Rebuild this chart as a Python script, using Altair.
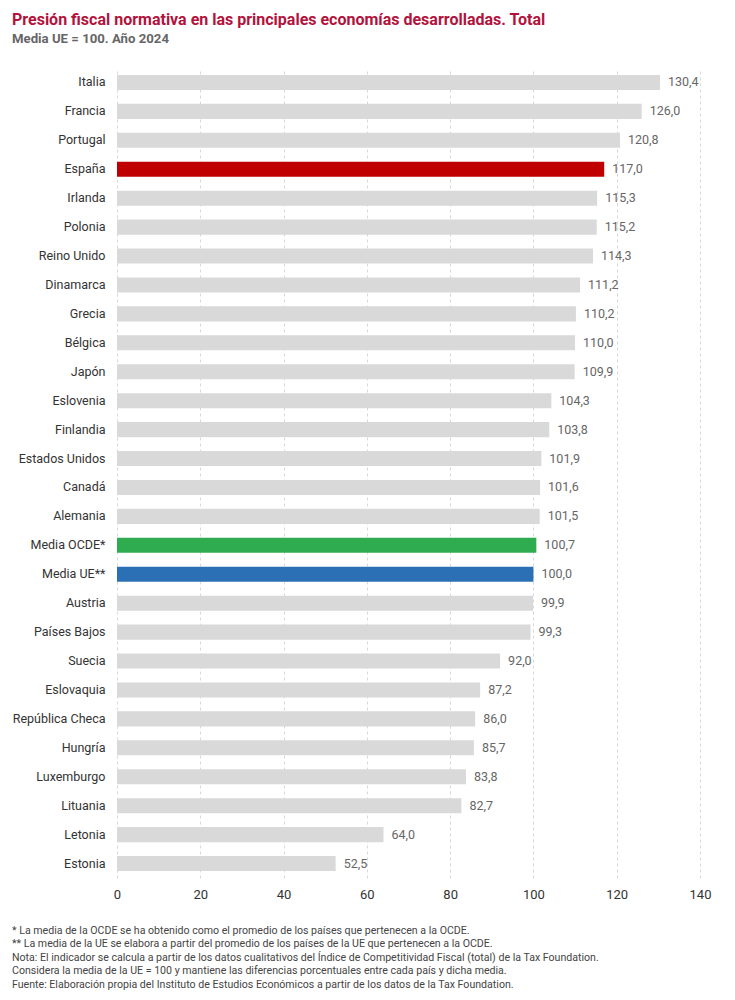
import altair as alt
import pandas as pd

countries = ["Italia", "Francia", "Portugal", "España", "Irlanda", "Polonia", "Reino Unido",
             "Dinamarca", "Grecia", "Bélgica", "Japón", "Eslovenia", "Finlandia", "Estados Unidos",
             "Canadá", "Alemania", "Media OCDE*", "Media UE**", "Austria", "Países Bajos", "Suecia",
             "Eslovaquia", "República Checa", "Hungría", "Luxemburgo", "Lituania", "Letonia", "Estonia"]
values = [130.4, 126.0, 120.8, 117.0, 115.3, 115.2, 114.3, 111.2, 110.2, 110.0, 109.9, 104.3,
          103.8, 101.9, 101.6, 101.5, 100.7, 100.0, 99.9, 99.3, 92.0, 87.2, 86.0, 85.7, 83.8,
          82.7, 64.0, 52.5]
groups = ["otro"] * len(countries)
groups[countries.index("España")] = "España"
groups[countries.index("Media OCDE*")] = "OCDE"
groups[countries.index("Media UE**")] = "UE"

footnotes = [
    "* La media de la OCDE se ha obtenido como el promedio de los países que pertenecen a la OCDE.",
    "** La media de la UE se elabora a partir del promedio de los países de la UE que pertenecen a la OCDE.",
    "Nota: El indicador se calcula a partir de los datos cualitativos del Índice de Competitividad Fiscal (total) de la Tax Foundation.",
    "Considera la media de la UE = 100 y mantiene las diferencias porcentuales entre cada país y dicha media.",
    "Fuente: Elaboración propia del Instituto de Estudios Económicos a partir de los datos de la Tax Foundation.",
]

df = pd.DataFrame({
    "pais": countries,
    "valor": values,
    "grupo": groups,
    "etiqueta": [f"{v:.1f}".replace(".", ",") for v in values],
})
notes_df = pd.DataFrame({"linea": footnotes, "i": list(range(len(footnotes)))})

W, H = 583, 810
FONT = "Roboto"

y_enc = alt.Y("pais:N", sort=countries, title=None,
              scale=alt.Scale(paddingInner=0.48, paddingOuter=0.24),
              axis=alt.Axis(domain=False, ticks=False, labelPadding=12, labelFontSize=12.5,
                            labelColor="#333333", labelFont=FONT, grid=False))
x_enc = alt.X("valor:Q", title=None,
              scale=alt.Scale(domain=[0, 140], nice=False),
              axis=alt.Axis(values=list(range(0, 141, 20)), domain=False, ticks=False,
                            labelFontSize=13, labelColor="#333333", labelFont=FONT,
                            labelFlush=False, labelPadding=10, grid=True,
                            gridColor="#d8d8d8", gridDash=[3, 3], gridWidth=1))

base = alt.Chart(df)
bars = base.mark_bar().encode(
    y=y_enc,
    x=x_enc,
    color=alt.Color("grupo:N", legend=None,
                    scale=alt.Scale(domain=["otro", "España", "OCDE", "UE"],
                                    range=["#d9d9d9", "#c00000", "#2fac50", "#2b70b5"])),
)
labels = base.mark_text(align="left", baseline="middle", dx=8, fontSize=12.5,
                        color="#666666", font=FONT).encode(
    y=alt.Y("pais:N", sort=countries),
    x=alt.X("valor:Q"),
    text="etiqueta:N",
)
notes = alt.Chart(notes_df).mark_text(align="left", baseline="middle", fontSize=10.6,
                                      color="#444444", font=FONT).encode(
    x=alt.value(-105),
    y=alt.Y("i:O", axis=None,
            scale=alt.Scale(range=[H + 53, H + 53 + 4 * 13.4], padding=0)),
    text="linea:N",
)

chart = alt.layer(alt.layer(bars, labels), notes).resolve_scale(y="independent").properties(
    width=W, height=H,
    autosize=alt.AutoSizeParams(type="none"),
    padding={"left": 109, "top": 60, "right": 27, "bottom": 114},
    title=alt.TitleParams(
        "Presión fiscal normativa en las principales economías desarrolladas. Total",
        subtitle="Media UE = 100. Año 2024",
        anchor="start", offset=23,
        font=FONT, fontSize=16, fontWeight="bold", color="#b3123c",
        subtitleFont=FONT, subtitleFontSize=13.2, subtitleFontWeight="bold",
        subtitleColor="#666666", subtitlePadding=5,
    ),
).configure_view(stroke=None)

chart.save("out.html", embed_options={"renderer": "svg", "actions": False})
